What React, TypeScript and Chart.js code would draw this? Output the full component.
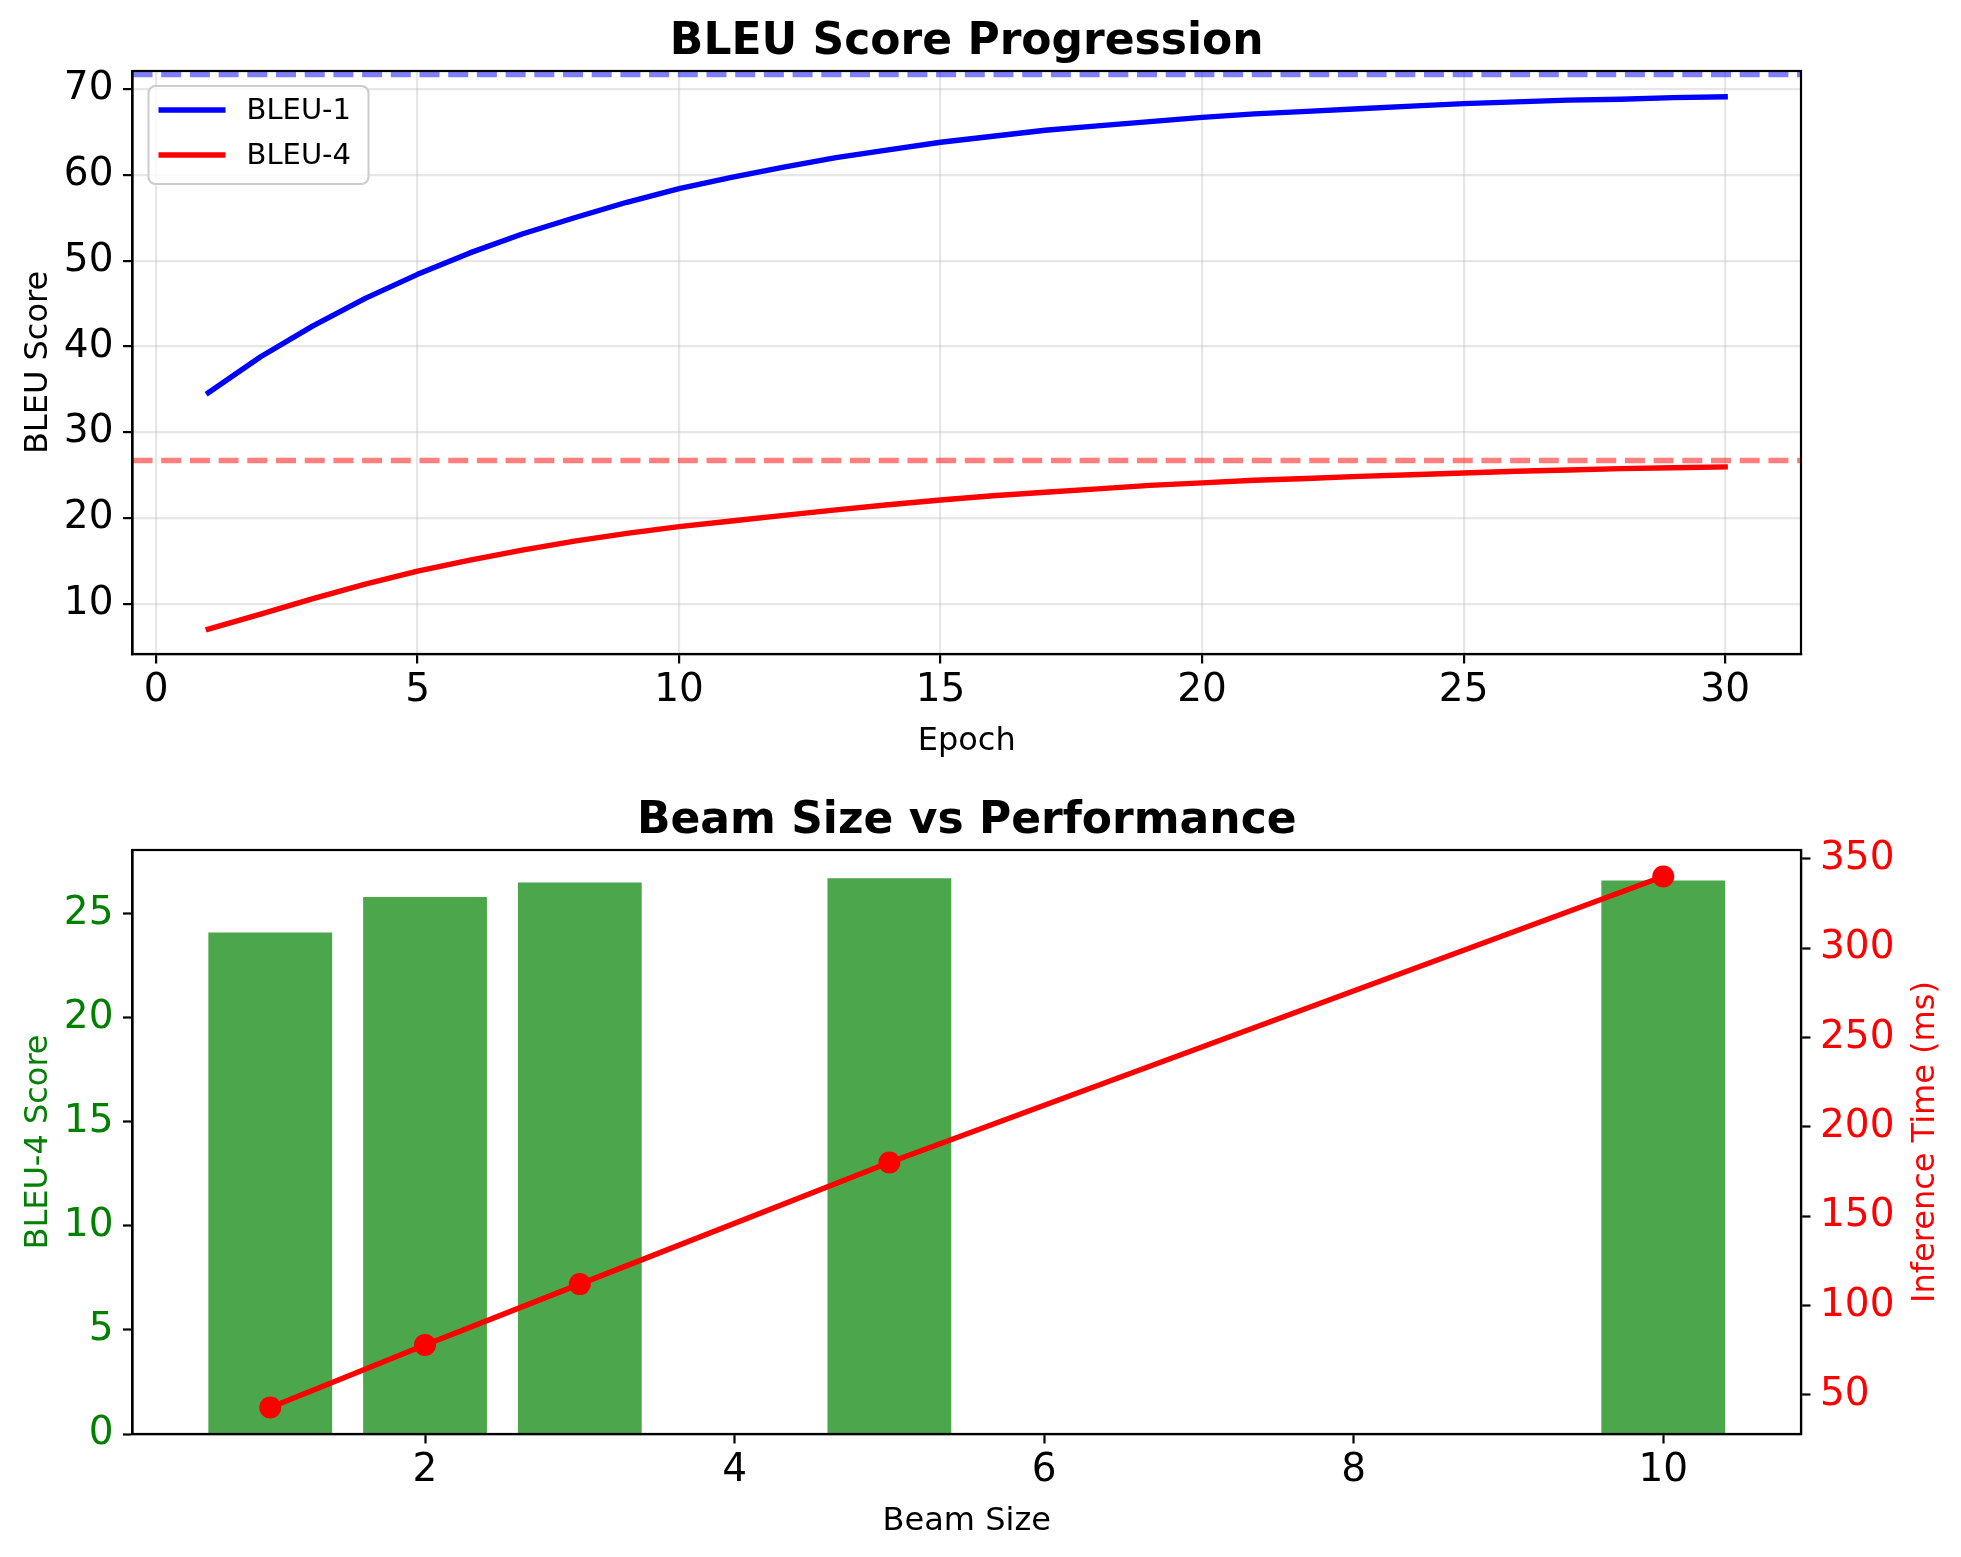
import React, { useEffect, useRef } from "react";
import { Chart, registerables } from "chart.js";

Chart.register(...registerables);

// ---------- data ----------
const EPOCHS = [1, 2, 3, 4, 5, 6, 7, 8, 9, 10, 11, 12, 13, 14, 15, 16, 17, 18, 19, 20, 21, 22, 23, 24, 25, 26, 27, 28, 29, 30];
const BLEU1 = [34.6, 38.8, 42.4, 45.6, 48.4, 50.9, 53.1, 55.0, 56.8, 58.4, 59.7, 60.9, 62.0, 62.9, 63.8, 64.5, 65.2, 65.7, 66.2, 66.7, 67.1, 67.4, 67.7, 68.0, 68.3, 68.5, 68.7, 68.8, 69.0, 69.1];
const BLEU4 = [7.05, 8.8, 10.6, 12.3, 13.8, 15.1, 16.25, 17.3, 18.2, 19.0, 19.65, 20.3, 20.95, 21.55, 22.1, 22.6, 23.0, 23.4, 23.8, 24.1, 24.4, 24.6, 24.85, 25.05, 25.25, 25.45, 25.6, 25.75, 25.85, 25.95];
const BLEU1_BEST = 71.7;
const BLEU4_BEST = 26.7;

const BEAM_SIZES = [1, 2, 3, 5, 10];
const BEAM_BLEU4 = [24.1, 25.8, 26.5, 26.7, 26.6];
const BEAM_TIME_MS = [43, 78, 112, 180, 340];

const EPOCH_TICKS = [0, 5, 10, 15, 20, 25, 30];
const BLEU_TICKS = [10, 20, 30, 40, 50, 60, 70];
const BEAM_TICKS = [2, 4, 6, 8, 10];
const SCORE_TICKS = [0, 5, 10, 15, 20, 25];
const TIME_TICKS = [50, 100, 150, 200, 250, 300, 350];

// axis limits
const TOP_X = [-0.45, 31.45];
const TOP_Y = [4.15, 72.1];
const BOT_X = [0.11, 10.89];
const BOT_Y = [0, 28.06];
const BOT_Y1 = [28.15, 354.85];

// ---------- style ----------
const FONT = "'DejaVu Sans', sans-serif";
const W = 1961;
const TOP_H = 780;
const BOT_H = 777;
const LW = 5.4;
const SPINE = 2.2;
const GRID = "rgba(176,176,176,0.3)";

const decorPlugin = {
  id: "decor",
  afterDatasetsDraw(chart: any, _args: any, o: any) {
    const { ctx, chartArea: a } = chart;
    (o.hlines || []).forEach((h: any) => {
      const y = chart.scales.y.getPixelForValue(h.value);
      ctx.save();
      ctx.beginPath();
      ctx.rect(a.left, a.top, a.right - a.left, a.bottom - a.top);
      ctx.clip();
      ctx.strokeStyle = h.color;
      ctx.lineWidth = LW;
      ctx.setLineDash([20, 8.7]);
      ctx.beginPath();
      ctx.moveTo(a.left, y);
      ctx.lineTo(a.right, y);
      ctx.stroke();
      ctx.restore();
    });
  },
  afterDraw(chart: any, _args: any, o: any) {
    const { ctx, chartArea: a } = chart;
    ctx.save();
    // frame
    ctx.strokeStyle = "#000";
    ctx.lineWidth = SPINE;
    ctx.setLineDash([]);
    ctx.strokeRect(a.left, a.top, a.right - a.left, a.bottom - a.top);

    // legend
    if (o.legend) {
      const lx = a.left + 16, ly = a.top + 15, lw = 220, lh = 98;
      ctx.beginPath();
      if (ctx.roundRect) ctx.roundRect(lx, ly, lw, lh, 7);
      else ctx.rect(lx, ly, lw, lh);
      ctx.fillStyle = "rgba(255,255,255,0.8)";
      ctx.fill();
      ctx.strokeStyle = "#cccccc";
      ctx.lineWidth = 2;
      ctx.stroke();
      const ds = chart.data.datasets.filter((d: any) => d.label);
      ds.forEach((d: any, i: number) => {
        const cy = a.top + 39 + i * 45;
        ctx.strokeStyle = d.borderColor;
        ctx.lineWidth = LW;
        ctx.lineCap = "butt";
        ctx.beginPath();
        ctx.moveTo(a.left + 26, cy);
        ctx.lineTo(a.left + 93, cy);
        ctx.stroke();
        ctx.fillStyle = "#000";
        ctx.font = `29px ${FONT}`;
        ctx.textAlign = "left";
        ctx.textBaseline = "middle";
        ctx.fillText(d.label, a.left + 114, cy + 1);
      });
    }

    const cx = (a.left + a.right) / 2;
    const cyMid = (a.top + a.bottom) / 2;
    // title
    ctx.fillStyle = "#000";
    ctx.font = `bold 44px ${FONT}`;
    ctx.textAlign = "center";
    ctx.textBaseline = "alphabetic";
    ctx.fillText(o.title, cx, a.top - 17);

    // x label
    ctx.font = `32px ${FONT}`;
    ctx.fillText(o.xLabel, cx, a.bottom + 96);

    // y label (left)
    ctx.save();
    ctx.translate(47, cyMid);
    ctx.rotate(-Math.PI / 2);
    ctx.fillStyle = o.yLabelColor || "#000";
    ctx.fillText(o.yLabel, 0, 0);
    ctx.restore();

    if (o.y1Label) {
      ctx.save();
      ctx.translate(1934, cyMid);
      ctx.rotate(-Math.PI / 2);
      ctx.fillStyle = o.y1LabelColor || "#000";
      ctx.fillText(o.y1Label, 0, 0);
      ctx.restore();
    }
    ctx.restore();
  },
};

const tickFont = { family: FONT, size: 39 };

function axisBase(extra: any) {
  return {
    border: { display: true, color: "#000", width: SPINE },
    ...extra,
  };
}

export default function App() {
  const topRef = useRef<HTMLCanvasElement>(null);
  const botRef = useRef<HTMLCanvasElement>(null);

  useEffect(() => {
    const top = new Chart(topRef.current as HTMLCanvasElement, {
      type: "line",
      data: {
        datasets: [
          {
            label: "BLEU-1",
            data: EPOCHS.map((e, i) => ({ x: e, y: BLEU1[i] })),
            borderColor: "#0000ff",
            borderWidth: LW,
            pointRadius: 0,
            tension: 0,
            borderCapStyle: "square",
            borderJoinStyle: "round",
          },
          {
            label: "BLEU-4",
            data: EPOCHS.map((e, i) => ({ x: e, y: BLEU4[i] })),
            borderColor: "#ff0000",
            borderWidth: LW,
            pointRadius: 0,
            tension: 0,
            borderCapStyle: "square",
            borderJoinStyle: "round",
          },
        ],
      },
      options: {
        animation: false,
        responsive: false,
        devicePixelRatio: 1,
        layout: { padding: { top: 71, right: 160, left: 0, bottom: 0 } },
        plugins: {
          legend: { display: false },
          tooltip: { enabled: false },
          decor: {
            title: "BLEU Score Progression",
            xLabel: "Epoch",
            yLabel: "BLEU Score",
            legend: true,
            hlines: [
              { value: BLEU1_BEST, color: "rgba(0,0,255,0.5)" },
              { value: BLEU4_BEST, color: "rgba(255,0,0,0.5)" },
            ],
          },
        } as any,
        scales: {
          x: axisBase({
            type: "linear",
            min: TOP_X[0],
            max: TOP_X[1],
            afterBuildTicks: (s: any) => {
              s.ticks = EPOCH_TICKS.map((v) => ({ value: v }));
            },
            afterFit: (s: any) => {
              s.height = TOP_H - 654;
            },
            grid: { color: GRID, lineWidth: SPINE, tickColor: "#000", tickLength: 9.5, tickWidth: SPINE },
            ticks: { font: tickFont, color: "#000", padding: 4, maxRotation: 0, autoSkip: false },
          }),
          y: axisBase({
            type: "linear",
            min: TOP_Y[0],
            max: TOP_Y[1],
            afterBuildTicks: (s: any) => {
              s.ticks = BLEU_TICKS.map((v) => ({ value: v }));
            },
            afterFit: (s: any) => {
              s.width = 132.5;
            },
            grid: { color: GRID, lineWidth: SPINE, tickColor: "#000", tickLength: 9.5, tickWidth: SPINE },
            ticks: { font: tickFont, color: "#000", padding: 9.5, autoSkip: false },
          }),
        },
      } as any,
      plugins: [decorPlugin as any],
    });

    const bot = new Chart(botRef.current as HTMLCanvasElement, {
      type: "bar",
      data: {
        datasets: [
          {
            type: "line",
            label: "Inference Time",
            data: BEAM_SIZES.map((b, i) => ({ x: b, y: BEAM_TIME_MS[i] })),
            yAxisID: "y1",
            borderColor: "#ff0000",
            backgroundColor: "#ff0000",
            borderWidth: LW,
            pointRadius: 11,
            pointBackgroundColor: "#ff0000",
            pointBorderColor: "#ff0000",
            pointBorderWidth: 0,
            tension: 0,
            order: 1,
          },
          {
            type: "bar",
            label: "BLEU-4",
            data: BEAM_SIZES.map((b, i) => ({ x: b, y: BEAM_BLEU4[i] })),
            yAxisID: "y",
            backgroundColor: "rgba(0,128,0,0.7)",
            borderWidth: 0,
            barPercentage: 0.8,
            categoryPercentage: 1.0,
            order: 2,
          },
        ],
      } as any,
      options: {
        animation: false,
        responsive: false,
        devicePixelRatio: 1,
        layout: { padding: { top: 70, right: 0, left: 0, bottom: 0 } },
        plugins: {
          legend: { display: false },
          tooltip: { enabled: false },
          decor: {
            title: "Beam Size vs Performance",
            xLabel: "Beam Size",
            yLabel: "BLEU-4 Score",
            yLabelColor: "#008000",
            y1Label: "Inference Time (ms)",
            y1LabelColor: "#ff0000",
          },
        } as any,
        scales: {
          x: axisBase({
            type: "linear",
            offset: false,
            min: BOT_X[0],
            max: BOT_X[1],
            afterBuildTicks: (s: any) => {
              s.ticks = BEAM_TICKS.map((v) => ({ value: v }));
            },
            afterFit: (s: any) => {
              s.height = BOT_H - 654;
            },
            grid: { display: true, drawOnChartArea: false, offset: false, tickColor: "#000", tickLength: 9.5, tickWidth: SPINE },
            ticks: { font: tickFont, color: "#000", padding: 4, maxRotation: 0, autoSkip: false },
          }),
          y: axisBase({
            type: "linear",
            position: "left",
            min: BOT_Y[0],
            max: BOT_Y[1],
            afterBuildTicks: (s: any) => {
              s.ticks = SCORE_TICKS.map((v) => ({ value: v }));
            },
            afterFit: (s: any) => {
              s.width = 132.5;
            },
            grid: { display: true, drawOnChartArea: false, tickColor: "#000", tickLength: 9.5, tickWidth: SPINE },
            ticks: { font: tickFont, color: "#008000", padding: 9.5, autoSkip: false },
          }),
          y1: axisBase({
            type: "linear",
            position: "right",
            min: BOT_Y1[0],
            max: BOT_Y1[1],
            afterBuildTicks: (s: any) => {
              s.ticks = TIME_TICKS.map((v) => ({ value: v }));
            },
            afterFit: (s: any) => {
              s.width = W - 1801;
            },
            grid: { display: true, drawOnChartArea: false, tickColor: "#000", tickLength: 9.5, tickWidth: SPINE },
            ticks: { font: tickFont, color: "#ff0000", padding: 9.5, autoSkip: false },
          }),
        },
      } as any,
      plugins: [decorPlugin as any],
    });

    return () => {
      top.destroy();
      bot.destroy();
    };
  }, []);

  return (
    <div style={{ position: "absolute", left: 0, top: 0, width: W, height: TOP_H + BOT_H, background: "#ffffff" }}>
      <canvas
        ref={topRef}
        width={W}
        height={TOP_H}
        style={{ position: "absolute", left: 0, top: 0, width: W, height: TOP_H }}
      />
      <canvas
        ref={botRef}
        width={W}
        height={BOT_H}
        style={{ position: "absolute", left: 0, top: TOP_H, width: W, height: BOT_H }}
      />
    </div>
  );
}
